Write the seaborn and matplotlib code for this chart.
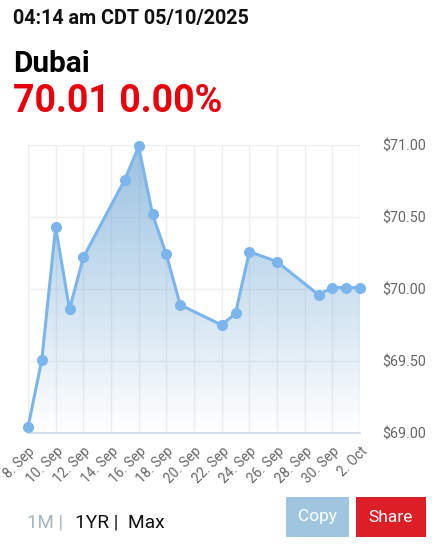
import numpy as np
import pandas as pd
import matplotlib
matplotlib.use('Agg')
import matplotlib.pyplot as plt
import matplotlib.dates as mdates
from matplotlib.patches import Polygon, Rectangle
from matplotlib.transforms import ScaledTranslation
import seaborn as sns

# price data
dates = ['2025-09-08', '2025-09-09', '2025-09-10', '2025-09-11', '2025-09-12',
         '2025-09-15', '2025-09-16', '2025-09-17', '2025-09-18', '2025-09-19',
         '2025-09-22', '2025-09-23', '2025-09-24', '2025-09-26', '2025-09-29',
         '2025-09-30', '2025-10-01', '2025-10-02']
prices = [69.04, 69.51, 70.43, 69.86, 70.22,
          70.76, 70.99, 70.52, 70.24, 69.89,
          69.75, 69.83, 70.26, 70.19, 69.96,
          70.01, 70.01, 70.01]
y_ticks = [69.0, 69.5, 70.0, 70.5, 71.0]

header = '04:14 am CDT 05/10/2025'
name = 'Dubai'
quote = '70.01 0.00%'

df = pd.DataFrame({'date': pd.to_datetime(dates), 'price': prices})

sns.set_style('white')
plt.rcParams['font.family'] = ['Roboto', 'DejaVu Sans']

W, H = 436, 551
fig = plt.figure(figsize=(W / 100, H / 100), dpi=100)

# axes placed in pixel terms
left, right, top, bottom = 28, 360, 145, 433
ax = fig.add_axes([left / W, 1 - bottom / H, (right - left) / W, (bottom - top) / H])

line_col = '#7cb5ec'

# gradient fill under the line
xnum = mdates.date2num(df['date'])
x0, x1 = xnum[0], xnum[-1]
poly = Polygon(np.column_stack([np.r_[x0, xnum, x1], np.r_[69.0, df['price'], 69.0]]),
               closed=True, facecolor='none', edgecolor='none')
ax.add_patch(poly)
grad = np.zeros((256, 1, 4))
grad[:, 0, 0] = 110 / 255
grad[:, 0, 1] = 167 / 255
grad[:, 0, 2] = 212 / 255
grad[:, 0, 3] = np.linspace(0.7, 0.0, 256)
im = ax.imshow(grad, aspect='auto', extent=[x0, x1, 69.0, 71.0], origin='upper', zorder=1)
im.set_clip_path(poly)

sns.lineplot(data=df, x='date', y='price', ax=ax, color=line_col, linewidth=2.2,
             marker='o', markersize=8, markeredgewidth=0, zorder=3, clip_on=False)

ax.set_xlim(df['date'].iloc[0], df['date'].iloc[-1])
ax.set_ylim(69.0, 71.0)

xt = pd.date_range(df['date'].iloc[0], df['date'].iloc[-1], freq='2D')
ax.set_xticks(xt)
ax.set_xticklabels([f"{d.day}. {d.strftime('%b')}" for d in xt], rotation=45,
                   ha='right', va='top', rotation_mode='anchor', fontsize=9.8, color='#666666')
# nudge the rotated labels a little right, like the original
for lab in ax.get_xticklabels():
    lab.set_transform(lab.get_transform() + ScaledTranslation(4 / 100, -2 / 100, fig.dpi_scale_trans))
ax.set_yticks(y_ticks)
ax.set_yticklabels([f'${v:.2f}' for v in y_ticks], fontsize=10.3, color='#666666')
ax.yaxis.tick_right()
ax.tick_params(axis='y', length=0, pad=16)
ax.tick_params(axis='x', length=5, width=1, color='#ccd6eb', pad=3)

ax.grid(True, color='#eeeeee', linewidth=1)
ax.set_axisbelow(True)
for s in ['top', 'right', 'left']:
    ax.spines[s].set_visible(False)
ax.spines['bottom'].set_color('#ccd6eb')
ax.spines['bottom'].set_linewidth(1.2)
ax.set_xlabel('')
ax.set_ylabel('')

# header texts
fig.text(13 / W, 1 - 24 / H, header, fontsize=14.2, fontweight='bold', color='#111111', va='baseline')
fig.text(13 / W, 1 - 72 / H, name, fontsize=21.5, fontweight='bold', color='#000000', va='baseline')
fig.text(13 / W, 1 - 112 / H, quote, fontsize=27, fontweight='bold', color='#e8000d', va='baseline')

# range selector
fig.text(27 / W, 1 - 527 / H, '1M |', fontsize=13.5, color='#a3b5c0', va='baseline')
fig.text(75 / W, 1 - 527 / H, '1YR |  Max', fontsize=13.8, color='#111111', va='baseline')

# buttons
fig.patches.append(Rectangle((286 / W, 1 - 537 / H), 63 / W, 40 / H, transform=fig.transFigure,
                             facecolor='#9fc5df', edgecolor='none'))
fig.patches.append(Rectangle((356 / W, 1 - 537 / H), 70 / W, 40 / H, transform=fig.transFigure,
                             facecolor='#dc1f26', edgecolor='none'))
fig.text(317.5 / W, 1 - 517 / H, 'Copy', fontsize=12.5, color='white', ha='center', va='center')
fig.text(391 / W, 1 - 517 / H, 'Share', fontsize=12.5, color='white', ha='center', va='center')

fig.savefig('out.png', dpi=100)
